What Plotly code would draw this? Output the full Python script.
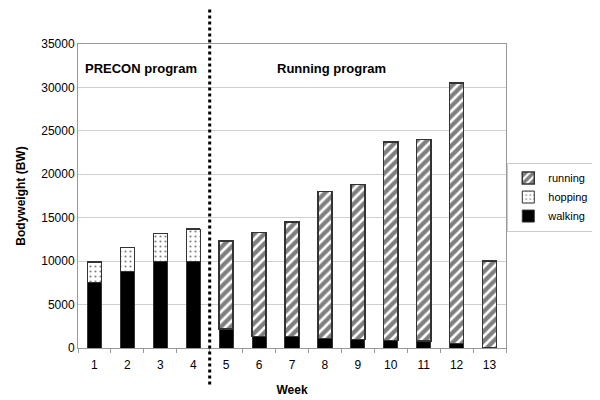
import plotly.graph_objects as go

weeks = ["1", "2", "3", "4", "5", "6", "7", "8", "9", "10", "11", "12", "13"]
walking = [7500, 8800, 10000, 10000, 2200, 1300, 1300, 1100, 1000, 850, 800, 500, 0]
hopping = [2400, 2750, 3200, 3700, 0, 0, 0, 0, 0, 0, 0, 0, 0]
running = [0, 0, 0, 0, 10100, 12000, 13200, 16900, 17800, 22850, 23200, 30000, 10000]

fig = go.Figure()
fig.add_trace(go.Bar(x=weeks, y=walking, name="walking",
                     marker=dict(color="black", line=dict(color="#333", width=1))))
fig.add_trace(go.Bar(x=weeks, y=hopping, name="hopping",
                     marker=dict(color="white", line=dict(color="#333", width=1),
                                 pattern=dict(shape=".", fgcolor="black", bgcolor="white", size=5, solidity=0.15))))
fig.add_trace(go.Bar(x=weeks, y=running, name="running",
                     marker=dict(color="white", line=dict(color="#333", width=1.5),
                                 pattern=dict(shape="/", fgcolor="black", bgcolor="white", size=7, solidity=0.62))))

fig.update_layout(
    barmode="stack",
    bargap=0.57,
    width=592, height=392,
    margin=dict(l=70, r=94, t=36, b=52, autoexpand=False),
    paper_bgcolor="white", plot_bgcolor="white",
    font=dict(family="Liberation Sans, Arial, sans-serif", size=12, color="black"),
    legend=dict(traceorder="reversed", x=1.003, y=0.61, xanchor="left", yanchor="top",
                bgcolor="rgba(0,0,0,0)",
                bordercolor="#cccccc", borderwidth=1, font=dict(size=11),
                itemwidth=30, tracegroupgap=2),
    xaxis=dict(title=dict(text="<b>Week</b>", font=dict(size=12), standoff=14),
               automargin=False,
               showline=True, linecolor="#999999", mirror=True,
               ticks="outside", tickson="boundaries", ticklen=4, tickcolor="#999999",
               ticklabelstandoff=6,
               showgrid=False),
    yaxis=dict(title=dict(text="<b>Bodyweight (BW)</b>", font=dict(size=12), standoff=13),
               automargin=False,
               range=[0, 35000], dtick=5000, showline=True, linecolor="#999999", mirror=True,
               gridcolor="#d0d0d0", ticks="", tickformat="d", zeroline=False),
    showlegend=True,
)

fig.add_shape(type="line", xref="x", yref="paper", x0=3.5, x1=3.5, y0=-0.12, y1=1.145,
              line=dict(color="black", width=3, dash="dot"))

fig.add_annotation(text="<b>PRECON program</b>", xref="paper", yref="paper",
                   x=0.012, y=0.918, xanchor="left", yanchor="middle", showarrow=False,
                   font=dict(size=13))
fig.add_annotation(text="<b>Running program</b>", xref="paper", yref="paper",
                   x=0.46, y=0.918, xanchor="left", yanchor="middle", showarrow=False,
                   font=dict(size=13))

fig.write_html("out.html")
